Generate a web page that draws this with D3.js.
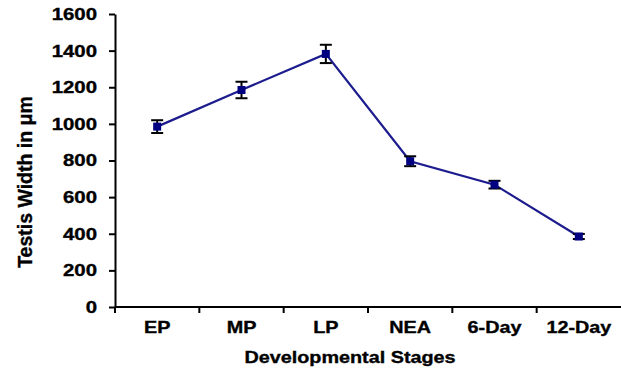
<!DOCTYPE html>
<html>
<head>
<meta charset="utf-8">
<script src="https://cdn.jsdelivr.net/npm/d3@7"></script>
<style>
  html, body { margin: 0; padding: 0; background: #fff; }
  svg { display: block; }
  text { font-family: "Liberation Sans", Arial, sans-serif; font-weight: bold; fill: #000;
         stroke: #000; stroke-width: 0.35px; }
</style>
</head>
<body>
<svg id="chart" width="621" height="373"></svg>
<script>
// Testis width across developmental stages (mean ± SE)
const stages = ["EP", "MP", "LP", "NEA", "6-Day", "12-Day"];
const widthMean = [985, 1185, 1382, 796, 668, 385];
const widthErr = [35, 45, 50, 27, 21, 14];
const yTicks = [0, 200, 400, 600, 800, 1000, 1200, 1400, 1600];

const svg = d3.select("#chart");
const plotLeft = 115, plotRight = 621, plotTop = 14, plotBottom = 307;
const wide = 1.2; // horizontal widening of the bold sans labels

const x = d3.scaleBand().domain(stages).range([plotLeft, plotRight]).padding(0);
const y = d3.scaleLinear().domain([0, 1600]).range([plotBottom, plotTop]);

// Y axis
const yAxis = svg.append("g")
  .attr("transform", `translate(${plotLeft},0)`)
  .call(d3.axisLeft(y).tickValues(yTicks).tickFormat(d3.format("d"))
    .tickSize(6).tickSizeOuter(0).tickPadding(12));
yAxis.select(".domain").attr("stroke", "#000").attr("stroke-width", 2);
yAxis.selectAll(".tick line").attr("stroke", "#000").attr("stroke-width", 2);
yAxis.selectAll(".tick text")
  .attr("x", 0)
  .attr("transform", `translate(-18,0) scale(${wide},1)`)
  .style("font-size", "17px").style("font-family", "Liberation Sans, Arial, sans-serif")
  .style("font-weight", "bold").attr("fill", "#000");

// X axis: ticks sit on category boundaries
const xAxis = svg.append("g")
  .attr("transform", `translate(0,${plotBottom})`);
xAxis.append("line")
  .attr("x1", plotLeft).attr("x2", plotRight)
  .attr("stroke", "#000").attr("stroke-width", 2);
const bounds = stages.map(s => x(s));
xAxis.selectAll("line.tk").data(bounds).join("line")
  .attr("class", "tk")
  .attr("x1", d => d).attr("x2", d => d)
  .attr("y1", 0).attr("y2", 6)
  .attr("stroke", "#000").attr("stroke-width", 2);
xAxis.selectAll("text.lbl").data(stages).join("text")
  .attr("class", "lbl")
  .attr("transform", d => `translate(${x(d) + x.bandwidth() / 2},26) scale(${wide},1)`)
  .attr("text-anchor", "middle")
  .style("font-size", "16.5px")
  .text(d => d);

// Axis titles
svg.append("text")
  .attr("transform", `translate(32,182) rotate(-90)`)
  .attr("text-anchor", "middle")
  .style("font-size", "19.5px")
  .text("Testis Width in μm");
svg.append("text")
  .attr("transform", `translate(350,363) scale(${wide},1)`)
  .attr("text-anchor", "middle")
  .style("font-size", "16.5px")
  .text("Developmental Stages");

const cx = d => x(d) + x.bandwidth() / 2;
const pts = stages.map((s, i) => ({ s, v: widthMean[i], e: widthErr[i] }));

// Mean line
svg.append("path")
  .datum(pts)
  .attr("fill", "none")
  .attr("stroke", "#1c1c8e")
  .attr("stroke-width", 2.2)
  .attr("d", d3.line().x(d => cx(d.s)).y(d => y(d.v)));

// Error bars
const eb = svg.append("g").attr("stroke", "#000").attr("stroke-width", 2);
eb.selectAll("line.v").data(pts).join("line").attr("class", "v")
  .attr("x1", d => cx(d.s)).attr("x2", d => cx(d.s))
  .attr("y1", d => y(d.v + d.e)).attr("y2", d => y(d.v - d.e));
eb.selectAll("line.t").data(pts).join("line").attr("class", "t")
  .attr("x1", d => cx(d.s) - 6).attr("x2", d => cx(d.s) + 6)
  .attr("y1", d => y(d.v + d.e)).attr("y2", d => y(d.v + d.e));
eb.selectAll("line.b").data(pts).join("line").attr("class", "b")
  .attr("x1", d => cx(d.s) - 6).attr("x2", d => cx(d.s) + 6)
  .attr("y1", d => y(d.v - d.e)).attr("y2", d => y(d.v - d.e));

// Square markers
svg.selectAll("rect.m").data(pts).join("rect").attr("class", "m")
  .attr("x", d => cx(d.s) - 4).attr("y", d => y(d.v) - 4)
  .attr("width", 8).attr("height", 8)
  .attr("fill", "#000080");
</script>
</body>
</html>
